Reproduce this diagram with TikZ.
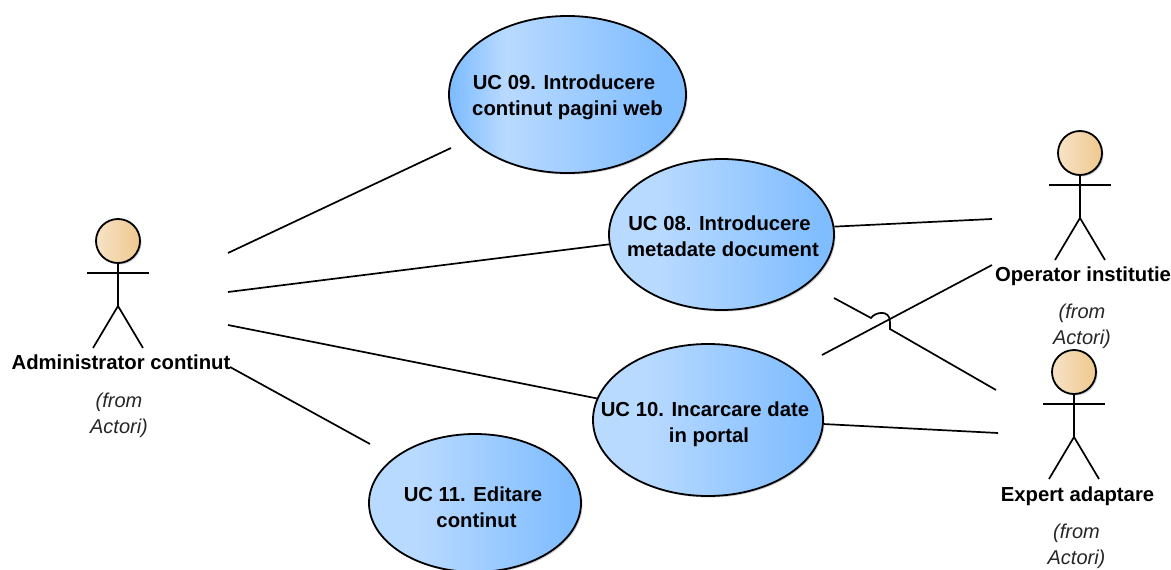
\documentclass[tikz,border=0pt]{standalone}
\usepackage{fontspec}
\setmainfont{Liberation Sans}
\usetikzlibrary{shapes.geometric}
\definecolor{ucleft}{HTML}{B9DAFF}
\definecolor{ucright}{HTML}{80BDFF}
\definecolor{headleft}{HTML}{F7E3C6}
\definecolor{headright}{HTML}{EFC88E}
\definecolor{shadowgray}{HTML}{C9CDD3}
\pgfdeclarehorizontalshading{ucplain}{100bp}{color(0bp)=(ucleft); color(36bp)=(ucleft); color(72bp)=(ucright); color(100bp)=(ucright)}
\pgfdeclarehorizontalshading{ucbanded}{100bp}{color(0bp)=(ucright); color(26bp)=(ucright); color(37bp)=(ucleft); color(70bp)=(ucright); color(100bp)=(ucright)}
\tikzset{
  usecase/.style={ellipse,draw=black,line width=1.8pt,shading=ucplain,shading angle=0,inner sep=0pt},
  usecasebanded/.style={usecase,shading=ucbanded},
  ucshadow/.style={ellipse,fill=shadowgray,inner sep=0pt},
  uctext/.style={font=\fontsize{20.3}{26}\selectfont\bfseries,align=center,text=black,inner sep=0pt},
  actorname/.style={font=\fontsize{20.3}{26}\selectfont\bfseries,align=center,text=black,inner sep=0pt},
  fromtext/.style={font=\fontsize{20}{26}\selectfont\itshape,align=center,text=black!85,inner sep=0pt},
  head/.style={circle,draw=black,line width=1.8pt,left color=headleft,right color=headright,minimum size=44pt,inner sep=0pt},
  headshadow/.style={circle,fill=shadowgray,minimum size=44pt,inner sep=0pt},
  limb/.style={draw=black,line width=1.7pt},
  assoc/.style={draw=black,line width=1.7pt}
}
\newcommand{\stickfigure}[3]{%
  \node[headshadow] at (#2+1.5,#3+1.5) {};
  \node[head] (#1head) at (#2,#3) {};
  \coordinate (#1la) at (#2-31,#3+32);
  \coordinate (#1ra) at (#2+31,#3+32);
  \coordinate (#1hip) at (#2,#3+65);
  \coordinate (#1ll) at (#2-25,#3+107);
  \coordinate (#1rl) at (#2+25,#3+107);
  \draw[limb] (#1head) -- (#1hip);
  \draw[limb] (#1la) -- (#1ra);
  \draw[limb] (#1ll) -- (#1hip) -- (#1rl);
}
\begin{document}
\begin{tikzpicture}[x=1pt,y=-1pt]
\useasboundingbox (0,0) rectangle (1171,570);
\begin{scope}
\clip (0,0) rectangle (1171,570);
\node[ucshadow,minimum width=237pt,minimum height=157pt] at (569,96) {};
\node[usecasebanded,minimum width=237pt,minimum height=157pt] (uc09) at (567.5,94.5) {};
\node[ucshadow,minimum width=225pt,minimum height=151pt] at (723,236) {};
\node[usecase,minimum width=225pt,minimum height=151pt] (uc08) at (721.5,234.5) {};
\node[ucshadow,minimum width=230pt,minimum height=152pt] at (709.5,421.5) {};
\node[usecase,minimum width=230pt,minimum height=152pt] (uc10) at (708,420) {};
\node[ucshadow,minimum width=212pt,minimum height=138pt] at (476.5,504.5) {};
\node[usecase,minimum width=212pt,minimum height=138pt] (uc11) at (475,503) {};
\end{scope}
\node[uctext] (t09) at (567.5,97) {UC 09. Introducere\kern7pt\\continut pagini web};
\node[uctext] (t08) at (723,236) {UC 08. Introducere\kern7pt\\metadate document};
\node[uctext] (t10) at (709,424) {UC 10. Incarcare date\kern8pt\\in portal};
\node[uctext] (t11) at (476.5,507.5) {UC 11. Editare\kern7pt\\continut};
\stickfigure{aa}{118}{241}
\stickfigure{ab}{1080}{153}
\stickfigure{ac}{1074}{372}
\node[actorname] (naa) at (121,362) {Administrator continut};
\node[fromtext] (faa) at (119,415) {(from\\Actori)};
\node[actorname] (nab) at (1083,276) {Operator institutie};
\node[fromtext] (fab) at (1082,326) {(from\\Actori)};
\node[actorname] (nac) at (1077.5,496) {Expert adaptare};
\node[fromtext] (fac) at (1076.5,546) {(from\\Actori)};
\coordinate (e1) at (228,253);
\coordinate (e1b) at (451,148);
\coordinate (e2) at (228,292);
\coordinate (e3) at (228,325);
\coordinate (e4) at (230,367);
\coordinate (e4b) at (370,444);
\coordinate (e5) at (992,219);
\coordinate (e6) at (822,355);
\coordinate (e6b) at (992,265);
\coordinate (e7) at (834,298);
\coordinate (b1) at (871,318);
\coordinate (b2) at (890,329);
\coordinate (e7b) at (996,390);
\coordinate (e8) at (998,433);
\draw[assoc] (e1) -- (e1b);
\draw[assoc] (e2) -- (uc08.185);
\draw[assoc] (e3) -- (uc10.169);
\draw[assoc] (e4) -- (e4b);
\draw[assoc] (uc08.4) -- (e5);
\draw[assoc] (e6) -- (e6b);
\draw[assoc] (e7) -- (b1) .. controls (875,312) and (890,309) .. (890,322) -- (b2) -- (e7b);
\draw[assoc] (uc10.-2) -- (e8);
\end{tikzpicture}
\end{document}
